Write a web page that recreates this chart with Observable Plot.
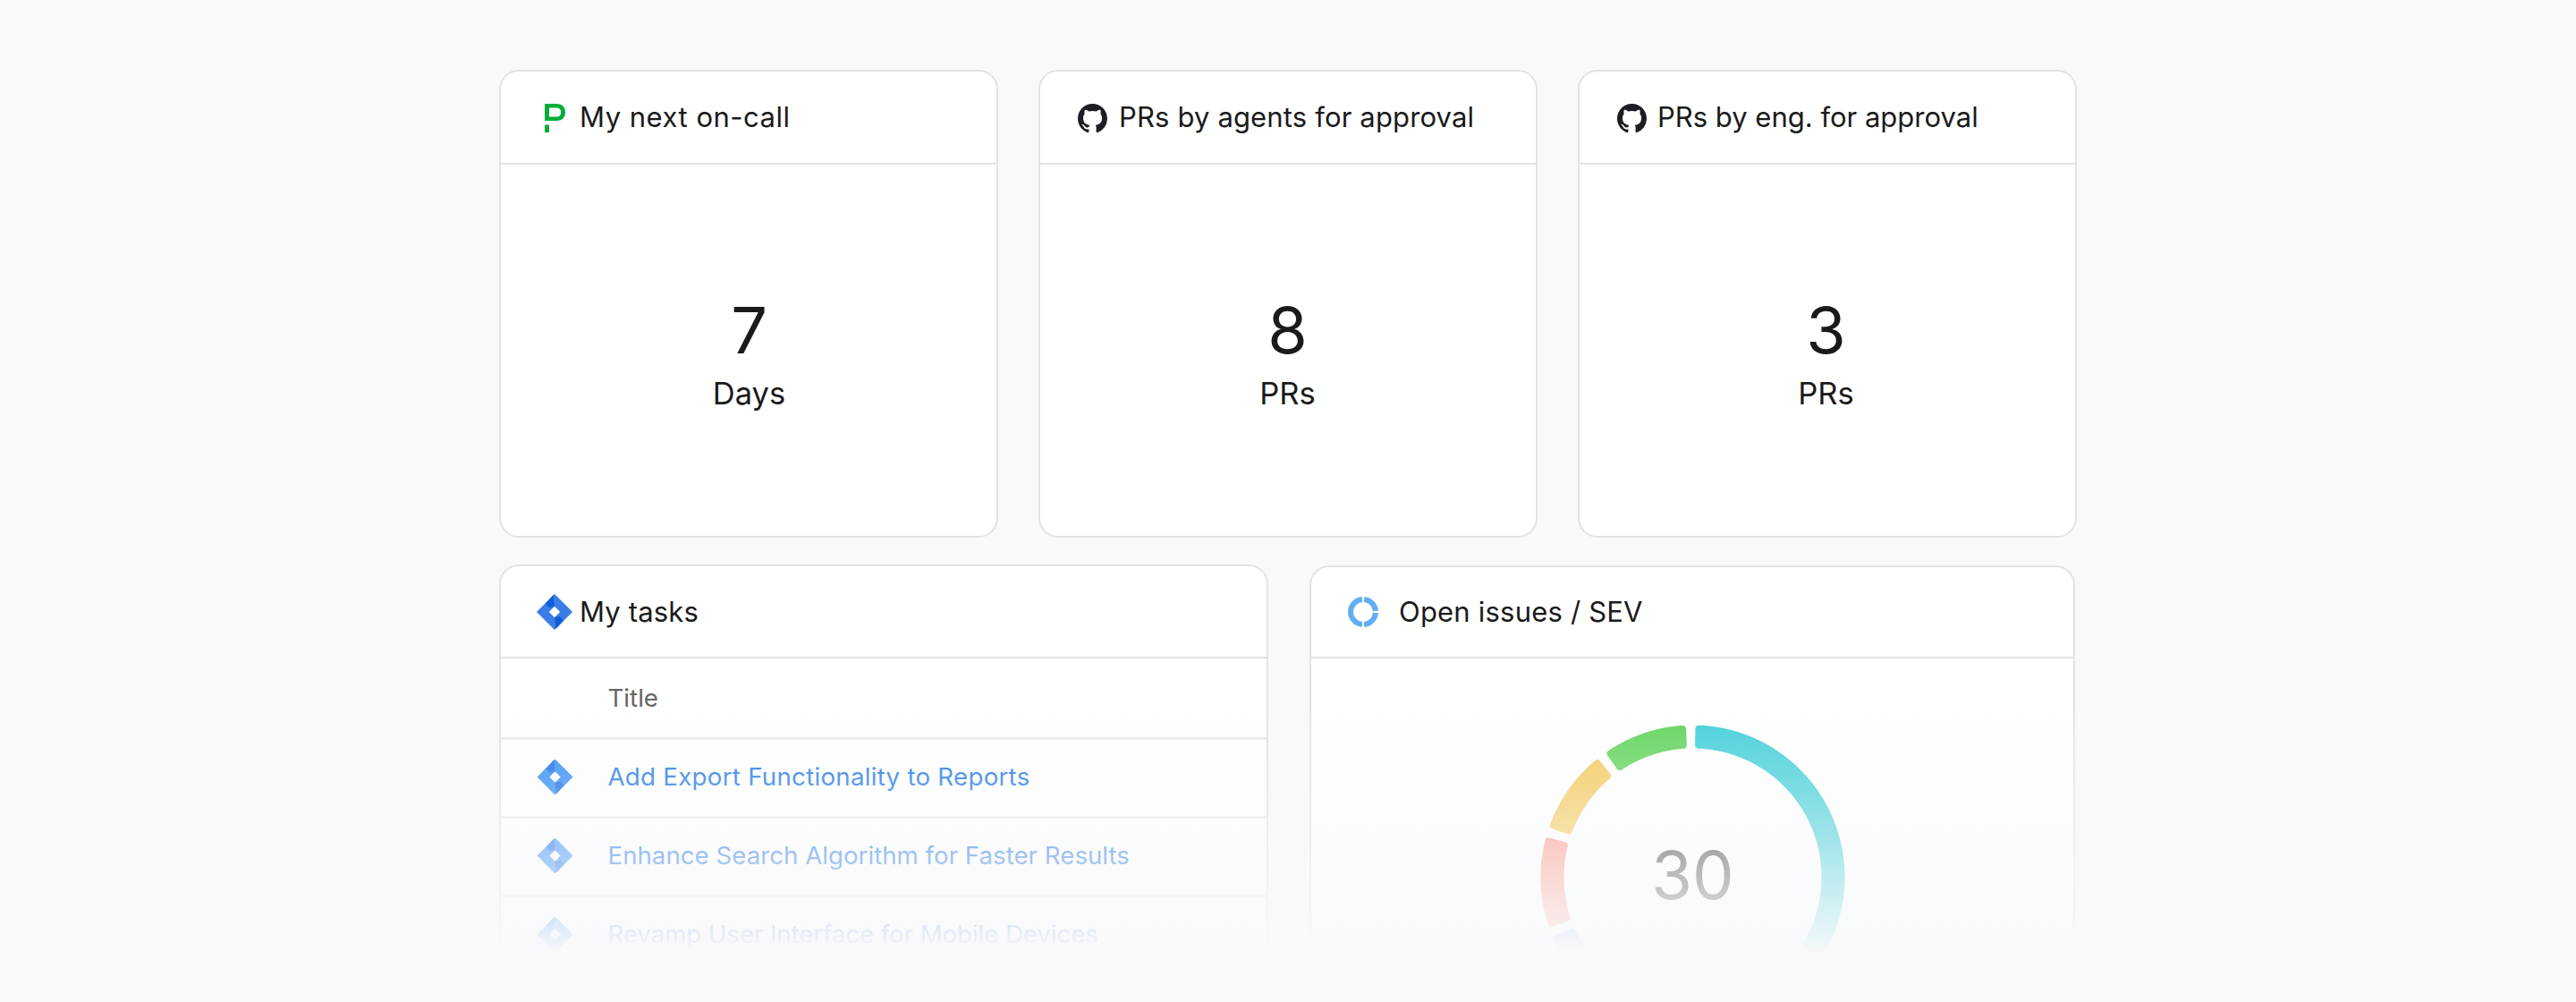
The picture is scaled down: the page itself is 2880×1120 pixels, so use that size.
<!DOCTYPE html>
<html><head><meta charset="utf-8">
<script src="https://cdn.jsdelivr.net/npm/d3@7"></script>
<script src="https://cdn.jsdelivr.net/npm/@observablehq/plot@0.6"></script>
<style>
html,body{margin:0;padding:0;background:#f8f9fb;}
body{width:2880px;height:1120px;position:relative;overflow:hidden;font-family:Inter,sans-serif;color:#1a1a1a;}
.card{position:absolute;box-sizing:border-box;background:#fff;border:2px solid #e2e3e5;border-radius:22px;}
.line{position:absolute;height:2px;background:#e2e3e5;}
.head{position:absolute;font-size:31px;line-height:40px;white-space:nowrap;letter-spacing:.15px;color:#1a1a1a;}
.abs{position:absolute;}
#fade{position:absolute;left:0;top:0;width:2880px;height:1120px;pointer-events:none;
background:linear-gradient(to bottom,rgba(248,249,251,0) 790px,rgba(248,249,251,.26) 870px,rgba(248,249,251,.58) 957px,rgba(248,249,251,.9) 1043px,rgba(248,249,251,1) 1065px);}
</style></head><body>
<script>
// ---- data ----
const kpiTitles = ["My next on-call", "PRs by agents for approval", "PRs by eng. for approval"];
const kpiValues = [7, 8, 3];
const kpiUnits = ["Days", "PRs", "PRs"];
const taskColumn = "Title";
const taskTitles = ["Add Export Functionality to Reports", "Enhance Search Algorithm for Faster Results", "Revamp User Interface for Mobile Devices"];
const issueTitle = "Open issues / SEV";
const sevNames = ["SEV1", "SEV2", "SEV3", "SEV4", "SEV5"];
const sevCounts = [18, 2.8, 3.2, 3, 3];
const sevColors = ["#47d0d9", "#9cc4f2", "#fe9687", "#f5ca5d", "#64d55f"];
const issueTotal = 30;

const ghPath = "M8 0C3.58 0 0 3.58 0 8c0 3.54 2.29 6.53 5.47 7.59.4.07.55-.17.55-.38 0-.19-.01-.82-.01-1.49-2.01.37-2.53-.49-2.69-.94-.09-.23-.48-.94-.82-1.13-.28-.15-.68-.52-.01-.53.63-.01 1.08.58 1.23.82.72 1.21 1.87.87 2.33.66.07-.52.28-.87.51-1.07-1.78-.2-3.64-.89-3.64-3.95 0-.87.31-1.59.82-2.15-.08-.2-.36-1.02.08-2.12 0 0 .67-.21 2.2.82.64-.18 1.32-.27 2-.27.68 0 1.36.09 2 .27 1.53-1.04 2.2-.82 2.2-.82.44 1.1.16 1.92.08 2.12.51.56.82 1.27.82 2.15 0 3.07-1.87 3.75-3.65 3.95.29.25.54.73.54 1.48 0 1.07-.01 1.93-.01 2.2 0 .21.15.46.55.38A8.013 8.013 0 0016 8c0-4.42-3.58-8-8-8z";
const jira = (a,b) => `<svg xmlns="http://www.w3.org/2000/svg" viewBox="-20 -20 40 40" width="40" height="40"><path d="M0 -19 L19 0 L0 19 L-19 0Z" fill="${a}" stroke="${a}" stroke-width="1.5" stroke-linejoin="round"/><path d="M-1.4 -19 L-10 -9.500 L-6 -5 L0 -6Z M1.400 19 L10 9.500 L6 5 L0 6Z" fill="${b}"/><path d="M0 -6.200 L6.200 0 L0 6.200 L-6.200 0Z" fill="#fff"/></svg>`;
const font = "Inter, sans-serif";

function add(html){const t=document.createElement("template");t.innerHTML=html.trim();const e=t.content.firstChild;document.body.appendChild(e);return e;}
function card(l,t,r,b,ly){add(`<div class="card" style="left:${l}px;top:${t}px;width:${r-l}px;height:${b-t}px"></div>`);add(`<div class="line" style="left:${l}px;top:${ly}px;width:${r-l}px"></div>`);}
function head(x,y,s,ls){add(`<div class="head" style="left:${x}px;top:${y}px;letter-spacing:${ls}px">${s}</div>`);}

// cards
card(558,78,1116,601,182); card(1161,78,1719,601,182); card(1764,78,2322,601,182);
card(558,631,1418,1150,734); card(1464,632,2320,1150,734);
head(648,111,kpiTitles[0],.5); head(1251,111,kpiTitles[1],.15); head(1853,111,kpiTitles[2],0);
head(648,664,"My tasks",.15); head(1564,664,issueTitle,.2);

// header icons
add(`<svg class="abs" style="left:609px;top:116px" width="23" height="32" viewBox="0 0 23 32"><path fill-rule="evenodd" fill="#06ac38" d="M0 0H13C20 0 23 4 23 9.500C23 15 20 19 13 19H0Z M5 4.500V14.500H13C16.500 14.500 18.200 12.500 18.200 9.500C18.200 6.500 16.500 4.500 13 4.500Z"/><path fill="#06ac38" d="M0 23.500H5V32H0Z"/></svg>`);
[1205,1808].forEach(x=>add(`<svg class="abs" style="left:${x}px;top:116px" width="33" height="33" viewBox="0 0 16 16"><path fill="#1b1f23" d="${ghPath}"/></svg>`));
add(`<div class="abs" style="left:600px;top:664px">${jira("#3b7de8","#0c5fd8")}</div>`);
add(`<svg class="abs" style="left:1506px;top:665.500px" width="36" height="36" viewBox="-18 -18 36 36"><circle r="14" fill="none" stroke="#62aef5" stroke-width="6" pathLength="360" stroke-dasharray="81 9 171 9 81 9" stroke-dashoffset="-4.500"/></svg>`);

const svgStyle = {background:"transparent",overflow:"visible",fontFamily:font};

// KPI numbers
const kpis = kpiTitles.map((title,i)=>({title,value:kpiValues[i],unit:kpiUnits[i]}));
const kpiPlot = Plot.plot({
  width:2880,height:200,margin:0,style:svgStyle,
  x:{type:"point",domain:kpiTitles,range:[836,2041],padding:0,axis:null},
  y:{type:"point",domain:["value","unit"],range:[71,140],padding:0,axis:null},
  marks:[
    Plot.text(kpis,{x:"title",y:()=>"value",text:d=>String(d.value),fontSize:72,fill:"#1a1a1a",fontWeight:400}),
    Plot.text(kpis,{x:"title",y:()=>"unit",text:"unit",fontSize:34.5,fill:"#1a1a1a"})
  ]
});
kpiPlot.style.position="absolute";kpiPlot.style.left="0";kpiPlot.style.top="300px";
document.body.appendChild(kpiPlot);

// Task table
const rows = [taskColumn,...taskTitles];
const iconUri = "data:image/svg+xml;utf8,"+encodeURIComponent(jira("#308df4","#146ce3"));
const taskPlot = Plot.plot({
  width:860,height:340,margin:0,style:svgStyle,
  x:{type:"point",domain:["icon","text"],range:[62,121.500],padding:0,axis:null},
  y:{type:"point",domain:rows,range:[46,310],padding:0,axis:null},
  marks:[
    Plot.ruleY(rows.slice(0,3),{y:d=>d,dy:44,stroke:"#e2e3e5",strokeWidth:2}),
    Plot.image(taskTitles,{x:()=>"icon",y:d=>d,dy:-1,src:()=>iconUri,width:40,height:40}),
    Plot.text([taskColumn],{x:()=>"text",y:d=>d,text:d=>d,textAnchor:"start",fontSize:27.700,fill:"#666"}),
    Plot.text(taskTitles,{x:()=>"text",y:d=>d,text:d=>d,textAnchor:"start",fontSize:27.700,fill:"#1f78e6"})
  ]
});
const tracking = {[taskTitles[0]]:.26,[taskTitles[1]]:0,[taskTitles[2]]:-.09};
taskPlot.querySelectorAll("text").forEach(t=>{if(t.textContent in tracking)t.style.letterSpacing=tracking[t.textContent]+"px";});
taskPlot.style.position="absolute";taskPlot.style.left="558px";taskPlot.style.top="735px";
document.body.appendChild(taskPlot);

// SEV ring
const rOuter=170,rInner=144,corner=4,padStart=1,padEnd=2.6;
const total=d3.sum(sevCounts);
let acc=0;const ringPts=[];
sevNames.forEach((name,i)=>{
  const a0=acc/total*360+padStart,a1=(acc+sevCounts[i])/total*360-padEnd;acc+=sevCounts[i];
  const ro=rOuter-corner,ri=rInner+corner;
  const n=Math.max(8,Math.round((a1-a0)/2));
  const poly=[];
  for(let k=0;k<=n;k++){const a=a0+corner/ro*57.3+(a1-a0-2*corner/ro*57.3)*k/n;poly.push([ro,a]);}
  for(let k=n;k>=0;k--){const a=a0+corner/ri*57.3+(a1-a0-2*corner/ri*57.3)*k/n;poly.push([ri,a]);}
  poly.forEach(([r,a])=>ringPts.push({name,x:r*Math.sin(a*Math.PI/180),y:r*Math.cos(a*Math.PI/180)}));
});
const ringPlot = Plot.plot({
  width:400,height:400,margin:0,style:svgStyle,
  x:{domain:[-200,200],axis:null},y:{domain:[-200,200],axis:null},
  color:{domain:sevNames,range:sevColors},
  marks:[
    Plot.line(ringPts,{x:"x",y:"y",z:"name",fill:"name",stroke:"name",strokeWidth:corner*2,strokeLinejoin:"round",curve:"linear-closed"}),
    Plot.text([issueTotal],{x:()=>0,y:()=>0,text:d=>String(d),fontSize:74,fontWeight:400,fill:"#444",dy:1})
  ]
});
ringPlot.style.position="absolute";ringPlot.style.left="1692px";ringPlot.style.top="780px";
document.body.appendChild(ringPlot);

add(`<div id="fade"></div>`);
</script>
</body></html>
